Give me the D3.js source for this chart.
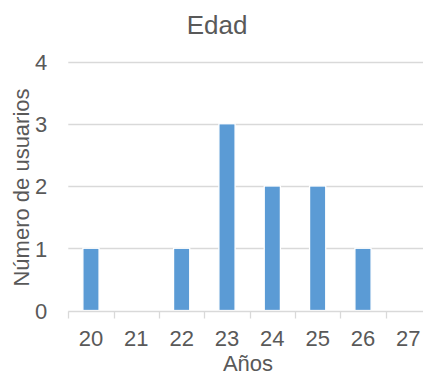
<!DOCTYPE html>
<html>
<head>
<meta charset="utf-8">
<script src="https://cdn.jsdelivr.net/npm/d3@7/dist/d3.min.js"></script>
<style>
  html, body { margin: 0; padding: 0; background: #fff; }
  svg { display: block; }
  text { font-family: "Liberation Sans", Arial, sans-serif; fill: #595959; }
</style>
</head>
<body>
<svg id="chart" width="423" height="376"></svg>
<script>
// Age distribution of users
const edades = ["20", "21", "22", "23", "24", "25", "26", "27"];
const usuarios = [1, 0, 1, 3, 2, 2, 1, 0];
const yTicks = [0, 1, 2, 3, 4];
const titulo = "Edad";
const tituloX = "Años";
const tituloY = "Número de usuarios";

const svg = d3.select("#chart");
const W = 423, H = 376;
const plot = { left: 68.3, right: 431, top: 61.5, bottom: 310.5 };

const x = d3.scaleBand()
  .domain(edades)
  .range([plot.left, plot.right])
  .paddingInner(0.643)
  .paddingOuter(0.3215);

const band = d3.scaleBand().domain(edades).range([plot.left, plot.right]);

const y = d3.scaleLinear()
  .domain([0, 4])
  .range([plot.bottom, plot.top]);

// Horizontal gridlines
svg.append("g")
  .selectAll("line")
  .data(yTicks.filter(d => d > 0))
  .join("line")
  .attr("x1", plot.left)
  .attr("x2", W)
  .attr("y1", d => Math.round(y(d)) + 0.5)
  .attr("y2", d => Math.round(y(d)) + 0.5)
  .attr("stroke", "#d9d9d9")
  .attr("stroke-width", 1.3);

// Y tick labels
const yAxis = d3.axisLeft(y).tickValues(yTicks).tickSize(0).tickPadding(0).tickFormat(d3.format("d"));
const gy = svg.append("g").attr("transform", `translate(${plot.left - 21},0)`).call(yAxis);
gy.select(".domain").remove();
gy.selectAll("text")
  .attr("font-size", 22)
  .attr("font-family", "Liberation Sans, Arial, sans-serif")
  .attr("fill", "#595959")
  .attr("dy", "0.36em");

// Bars
svg.append("g")
  .selectAll("rect")
  .data(edades.map((e, i) => ({ e, v: usuarios[i] })).filter(d => d.v > 0))
  .join("rect")
  .attr("x", d => x(d.e))
  .attr("width", x.bandwidth())
  .attr("y", d => y(d.v))
  .attr("height", d => y(0) - y(d.v))
  .attr("fill", "#5b9bd5")
  .attr("stroke", "#ffffff")
  .attr("stroke-width", 1.3);

// X axis: baseline with tick marks at the category boundaries
const gx = svg.append("g").attr("transform", `translate(0,${Math.round(plot.bottom) + 0.5})`);
gx.append("line")
  .attr("x1", plot.left).attr("x2", W)
  .attr("stroke", "#d9d9d9").attr("stroke-width", 1.3);
gx.selectAll("line.tick")
  .data(edades)
  .join("line")
  .attr("class", "tick")
  .attr("x1", d => Math.round(band(d)) + 0.5)
  .attr("x2", d => Math.round(band(d)) + 0.5)
  .attr("y1", 0).attr("y2", 7)
  .attr("stroke", "#d9d9d9").attr("stroke-width", 1.3);
gx.selectAll("text")
  .data(edades)
  .join("text")
  .attr("x", d => band(d) + band.bandwidth() / 2)
  .attr("y", 34.5)
  .attr("text-anchor", "middle")
  .attr("font-size", 22)
  .text(d => d);

// Titles
svg.append("text")
  .attr("x", 217)
  .attr("y", 34.3)
  .attr("text-anchor", "middle")
  .attr("font-size", 26)
  .text(titulo);

svg.append("text")
  .attr("x", 248)
  .attr("y", 371)
  .attr("text-anchor", "middle")
  .attr("font-size", 22)
  .text(tituloX);

svg.append("text")
  .attr("transform", "translate(28.5,187.5) rotate(-90)")
  .attr("text-anchor", "middle")
  .attr("font-size", 22)
  .text(tituloY);
</script>
</body>
</html>
